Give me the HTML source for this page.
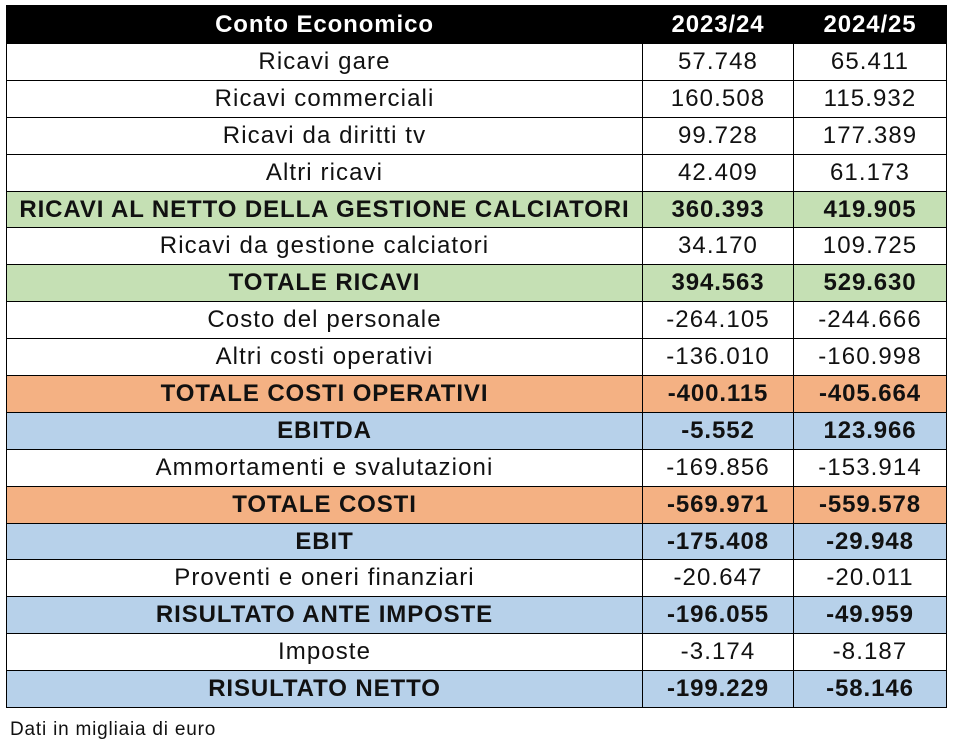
<!DOCTYPE html>
<html><head><meta charset="utf-8"><style>
body{margin:0;width:953px;height:744px;background:#fff;font-family:"Liberation Sans",sans-serif;position:relative;overflow:hidden}
#t{position:absolute;left:6px;top:5px;border-collapse:collapse;table-layout:fixed;width:940px}
#t td{border:1px solid #000;text-align:center;font-size:24px;letter-spacing:1.1px;height:35.9px;padding:0;color:#111;white-space:nowrap}
#t tr.h td{background:#000;color:#fff;font-weight:bold;height:37px;border-color:#000}
#t tr.g td{background:#c5e0b4;font-weight:bold}
#t tr.o td{background:#f4b183;font-weight:bold}
#t tr.b td{background:#b7d1ea;font-weight:bold}
#t tr.g td,#t tr.o td,#t tr.b td,#t tr.h td{letter-spacing:0.9px}
#note{position:absolute;left:10px;top:719px;font-size:19px;letter-spacing:0.8px;color:#111}
</style></head><body>
<table id="t">
<colgroup><col style="width:636px"><col style="width:151px"><col style="width:153px"></colgroup>
<tr class="h"><td>Conto Economico</td><td>2023/24</td><td>2024/25</td></tr>
<tr><td>Ricavi gare</td><td>57.748</td><td>65.411</td></tr>
<tr><td>Ricavi commerciali</td><td>160.508</td><td>115.932</td></tr>
<tr><td>Ricavi da diritti tv</td><td>99.728</td><td>177.389</td></tr>
<tr><td>Altri ricavi</td><td>42.409</td><td>61.173</td></tr>
<tr class="g"><td>RICAVI AL NETTO DELLA GESTIONE CALCIATORI</td><td>360.393</td><td>419.905</td></tr>
<tr><td>Ricavi da gestione calciatori</td><td>34.170</td><td>109.725</td></tr>
<tr class="g"><td>TOTALE RICAVI</td><td>394.563</td><td>529.630</td></tr>
<tr><td>Costo del personale</td><td>-264.105</td><td>-244.666</td></tr>
<tr><td>Altri costi operativi</td><td>-136.010</td><td>-160.998</td></tr>
<tr class="o"><td>TOTALE COSTI OPERATIVI</td><td>-400.115</td><td>-405.664</td></tr>
<tr class="b"><td>EBITDA</td><td>-5.552</td><td>123.966</td></tr>
<tr><td>Ammortamenti e svalutazioni</td><td>-169.856</td><td>-153.914</td></tr>
<tr class="o"><td>TOTALE COSTI</td><td>-569.971</td><td>-559.578</td></tr>
<tr class="b"><td>EBIT</td><td>-175.408</td><td>-29.948</td></tr>
<tr><td>Proventi e oneri finanziari</td><td>-20.647</td><td>-20.011</td></tr>
<tr class="b"><td>RISULTATO ANTE IMPOSTE</td><td>-196.055</td><td>-49.959</td></tr>
<tr><td>Imposte</td><td>-3.174</td><td>-8.187</td></tr>
<tr class="b"><td>RISULTATO NETTO</td><td>-199.229</td><td>-58.146</td></tr>
</table>
<div id="note">Dati in migliaia di euro</div>
</body></html>
